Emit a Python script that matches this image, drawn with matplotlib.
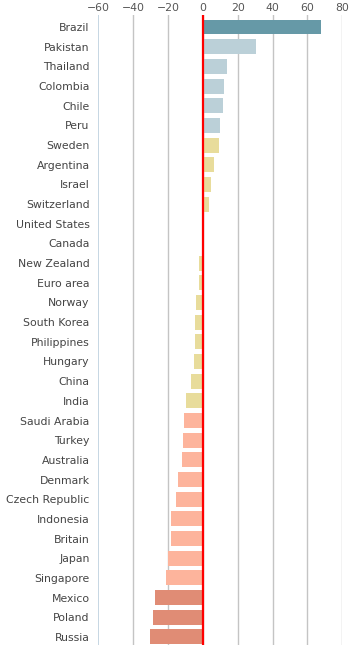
import matplotlib
matplotlib.use("Agg")
from matplotlib import pyplot as plt

countries = ["Brazil", "Pakistan", "Thailand", "Colombia", "Chile", "Peru",
             "Sweden", "Argentina", "Israel", "Switzerland", "United States",
             "Canada", "New Zealand", "Euro area", "Norway", "South Korea",
             "Philippines", "Hungary", "China", "India", "Saudi Arabia",
             "Turkey", "Australia", "Denmark", "Czech Republic", "Indonesia",
             "Britain", "Japan", "Singapore", "Mexico", "Poland", "Russia"]
values = [67.8, 30.5, 13.8, 12.1, 11.5, 9.8,
          9.2, 6.4, 4.6, 3.5, 0.0,
          0.0, -2.2, -2.2, -3.9, -4.5,
          -4.5, -5.1, -6.8, -9.7, -10.8,
          -11.4, -12.0, -14.3, -15.4, -18.3,
          -18.3, -20.2, -21.2, -27.5, -28.7, -30.4]
groups = [0, 1, 1, 1, 1, 1,
          2, 2, 2, 2, 2,
          2, 2, 2, 2, 2,
          2, 2, 2, 2, 3,
          3, 3, 3, 3, 3,
          3, 3, 3, 4, 4, 4]
group_colors = ["#6699a7", "#bbd0d8", "#e8dc9b", "#fdb49c", "#e08c75"]
ticks = [-60, -40, -20, 0, 20, 40, 60, 80]

fig = plt.figure(figsize=(3.63, 6.45), dpi=100)
ax = fig.add_axes([98.3 / 363, 0, (342.3 - 98.3) / 363, 1 - 15 / 645])

n = len(countries)
pos = list(range(n))
ax.barh(pos, values, height=0.76, color=[group_colors[g] for g in groups], zorder=2)

ax.set_xlim(-60, 80)
ax.set_ylim(n - 1 + 0.41, -0.61)
ax.set_xticks(ticks)
ax.set_xticklabels([str(t).replace("-", "\u2212") for t in ticks])
ax.xaxis.tick_top()
ax.tick_params(axis="x", length=0, pad=1.5, labelsize=7.8, labelcolor="#555555")
ax.set_yticks(pos)
ax.set_yticklabels(countries)
ax.tick_params(axis="y", length=0, pad=6.3, labelsize=7.8, labelcolor="#444444")

for t in ticks[1:]:
    ax.axvline(t, color="#c4c4c4", lw=1, zorder=1)
ax.axvline(-60, color="#bcd0de", lw=1.2, zorder=1)
ax.axvline(0, color="#ff0000", lw=1.6, zorder=3)

for s in ax.spines.values():
    s.set_visible(False)

plt.savefig("out.png", dpi=100)
